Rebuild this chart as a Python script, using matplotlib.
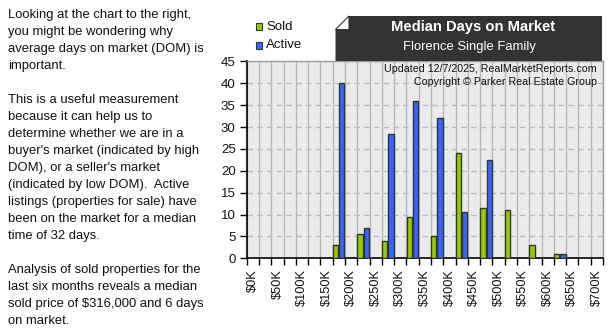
import matplotlib
matplotlib.use("Agg")
import matplotlib.pyplot as plt
from matplotlib.patches import Polygon, Rectangle
import numpy as np

plt.rcParams['font.family'] = ['Liberation Sans', 'DejaVu Sans']

# Price bins ($25K steps), labels every other bin
categories = [f"${k}K" for k in range(0, 725, 25)]
sold = [0, 0, 0, 0, 0, 0, 0, 3, 0, 5.5, 0, 4, 0, 9.5, 0, 5, 0, 24, 0, 11.5,
        0, 11, 0, 3, 0, 1, 0, 0, 0]
active = [0, 0, 0, 0, 0, 0, 0, 40, 0, 7, 0, 28.5, 0, 36, 0, 32, 0, 10.5, 0, 22.5,
          0, 0, 0, 0, 0, 1, 0, 0, 0]
y_ticks = list(range(0, 50, 5))

title = "Median Days on Market"
subtitle = "Florence Single Family"
credits = ["Updated 12/7/2025, RealMarketReports.com",
           "Copyright \u00a9 Parker Real Estate Group"]
paragraphs = [
    ["Looking at the chart to the right,",
     "you might be wondering why",
     "average days on market (DOM) is",
     "important."],
    ["This is a useful measurement",
     "because it can help us to",
     "determine whether we are in a",
     "buyer's market (indicated by high",
     "DOM), or a seller's market",
     "(indicated by low DOM).  Active",
     "listings (properties for sale) have",
     "been on the market for a median",
     "time of 32 days."],
    ["Analysis of sold properties for the",
     "last six months reveals a median",
     "sold price of $316,000 and 6 days",
     "on market."],
]

W, H = 609, 332
fig = plt.figure(figsize=(W / 100, H / 100), dpi=100)
fig.patch.set_facecolor("white")

def fx(px):
    return px / W

def fy(py):
    return 1 - py / H

# Left-hand commentary
line_h = 17.0
y = 15.0
for para in paragraphs:
    for line in para:
        fig.text(fx(8), fy(y), line, fontsize=9.4, color="#111111",
                 ha="left", va="center")
        y += line_h
    y += line_h

# Chart axes
ax_l, ax_r, ax_t, ax_b = 246.7, 603.0, 61.4, 258.3
ax = fig.add_axes([fx(ax_l), fy(ax_b), fx(ax_r - ax_l), (ax_b - ax_t) / H])
ax.set_facecolor("#ebebeb")

n = len(categories)
x = np.arange(n)
w = 0.43
ax.bar(x - 0.27, sold, w, color="#99cc00", edgecolor="#333333", linewidth=1.0, zorder=3)
ax.bar(x + 0.24, active, w, color="#3366ff", edgecolor="#333333", linewidth=1.0, zorder=3)

ax.set_xlim(-0.5, n - 0.5)
ax.set_ylim(0, 45)

# vertical grid at bin edges, dashed horizontal grid
for b in np.arange(-0.5, n, 1.0):
    ax.axvline(b, color="#b8b8b8", linewidth=1.0, zorder=1)
for v in y_ticks[1:]:
    ax.axhline(v, color="#bbbbbb", linewidth=1.0, linestyle=(0, (4, 3)), zorder=1)

ax.set_yticks(y_ticks)
ax.set_yticklabels([str(v) for v in y_ticks], fontsize=9.5, color="#111111")
ax.tick_params(axis="y", direction="out", length=5, width=1, color="black", pad=3)

ax.set_xticks(np.arange(-0.5, n, 1.0), minor=True)
ax.set_xticks(x[::2])
ax.set_xticklabels(categories[::2], rotation=90, fontsize=9.2, color="#111111",
                   va="top", ha="center")
ax.tick_params(axis="x", which="major", length=0, pad=8)
ax.tick_params(axis="x", which="minor", direction="out", length=5, width=1, color="black")

for side in ("top", "right"):
    ax.spines[side].set_color("#999999")
    ax.spines[side].set_linewidth(1.0)
ax.spines["left"].set_color("black")
ax.spines["bottom"].set_color("black")
ax.spines["left"].set_linewidth(1.2)
ax.spines["bottom"].set_linewidth(1.2)

# credits inside the plot, top right
ax.text(0.983, 0.985, credits[0], transform=ax.transAxes, ha="right", va="top",
        fontsize=7.7, color="#111111", zorder=5)
ax.text(0.983, 0.92, credits[1], transform=ax.transAxes, ha="right", va="top",
        fontsize=7.7, color="#111111", zorder=5)

# Title banner with folded corner
bl, br, bt, bb = 335.5, 602.0, 16.0, 61.0
curl = 13.5
banner = Polygon([(fx(bl), fy(bt + curl)), (fx(bl + curl), fy(bt)), (fx(br), fy(bt)),
                  (fx(br), fy(bb)), (fx(bl), fy(bb))], closed=True,
                 transform=fig.transFigure, facecolor="#333333", edgecolor="none")
fig.patches.append(banner)
fold = Polygon([(fx(bl), fy(bt + curl)), (fx(bl + curl), fy(bt)), (fx(bl + curl), fy(bt + curl))],
               closed=True, transform=fig.transFigure, facecolor="white",
               edgecolor="#333333", linewidth=0.8)
fig.patches.append(fold)

fig.text(fx(473), fy(26.5), title, fontsize=10.6, fontweight="bold", color="white",
         ha="center", va="center")
fig.text(fx(469), fy(47), subtitle, fontsize=9.4, color="white", ha="center", va="center")

# Legend swatches
for i, (lab, col) in enumerate([("Sold", "#99cc00"), ("Active", "#3366ff")]):
    yc = 26.5 + i * 19
    fig.patches.append(Rectangle((fx(255.5), fy(yc + 3.2)), 6.5 / W, 6.5 / H,
                                 transform=fig.transFigure, facecolor=col,
                                 edgecolor="#333333", linewidth=0.8))
    fig.text(fx(266), fy(yc), lab, fontsize=9.5, color="#111111", ha="left", va="center")

fig.savefig("out.png", dpi=100, facecolor="white")
